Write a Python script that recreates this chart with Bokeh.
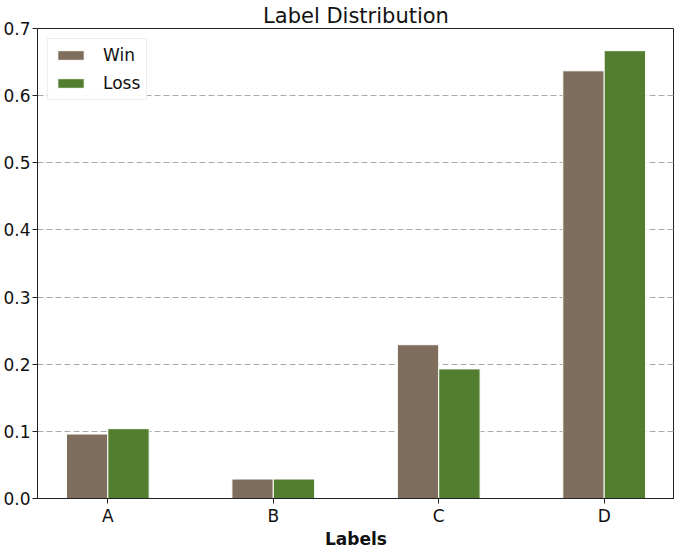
from bokeh.plotting import figure
from bokeh.models import ColumnDataSource, FixedTicker, Range1d, Legend, LegendItem
from bokeh.embed import file_html
from bokeh.resources import INLINE

categories = ["A", "B", "C", "D"]
win = [0.096, 0.029, 0.229, 0.637]
loss = [0.104, 0.029, 0.193, 0.667]
y_ticks = [0.0, 0.1, 0.2, 0.3, 0.4, 0.5, 0.6, 0.7]
bar_width = 0.25

idx = list(range(len(categories)))
src = ColumnDataSource(data=dict(
    xw=[i - bar_width / 2 for i in idx],
    xl=[i + bar_width / 2 for i in idx],
    win=win, loss=loss,
))

p = figure(frame_width=637, frame_height=470, output_backend="svg", toolbar_location=None,
           x_range=Range1d(-0.425, 3.425), y_range=Range1d(0, 0.7),
           title="Label Distribution", min_border_left=0, min_border_right=0,
           min_border_top=0, min_border_bottom=0)

rw = p.vbar(x="xw", top="win", width=bar_width, source=src,
            fill_color="#7f6d5d", line_color="white", line_width=1)
rl = p.vbar(x="xl", top="loss", width=bar_width, source=src,
            fill_color="#547e2f", line_color="white", line_width=1)

p.title.text_font = "DejaVu Sans"
p.title.text_font_size = "21px"
p.title.text_font_style = "normal"
p.title.align = "center"
p.title.text_color = "#111111"
p.title.standoff = 2

p.xaxis.ticker = FixedTicker(ticks=idx)
p.xaxis.major_label_overrides = {i: c for i, c in zip(idx, categories)}
p.xaxis.axis_label = "Labels"
p.xaxis.axis_label_text_font = "DejaVu Sans"
p.xaxis.axis_label_text_font_size = "17px"
p.xaxis.axis_label_text_font_style = "bold"
p.xaxis.axis_label_text_color = "#111111"
p.xaxis.axis_label_standoff = 0

p.yaxis.ticker = FixedTicker(ticks=y_ticks)
p.yaxis.major_label_overrides = {t: f"{t:.1f}" for t in y_ticks}

for ax in (p.xaxis, p.yaxis):
    ax.major_label_text_font = "DejaVu Sans"
    ax.major_label_text_font_size = "17px"
    ax.major_label_text_color = "#111111"
    ax.major_tick_in = 0
    ax.major_tick_out = 5
    ax.minor_tick_line_color = None
    ax.axis_line_color = "#222222"
    ax.major_tick_line_color = "#222222"
p.xaxis.major_label_standoff = 2
p.yaxis.major_label_standoff = 2

p.xgrid.grid_line_color = None
p.ygrid.grid_line_color = "#aaaaaa"
p.ygrid.grid_line_dash = "6 3"
p.ygrid.grid_line_width = 1

p.outline_line_color = "#222222"
p.outline_line_width = 1
p.outline_line_alpha = 1

legend = Legend(items=[LegendItem(label="Win", renderers=[rw]),
                       LegendItem(label="Loss", renderers=[rl])],
                location="top_left")
legend.label_text_font = "DejaVu Sans"
legend.label_text_font_size = "17px"
legend.label_text_color = "#111111"
legend.glyph_width = 33
legend.glyph_height = 12
legend.spacing = 8
legend.padding = 6
legend.margin = 10
legend.border_line_color = "#dddddd"
legend.border_line_width = 1
legend.label_standoff = 16
p.add_layout(legend)

open("out.html", "w").write(file_html(p, INLINE))
